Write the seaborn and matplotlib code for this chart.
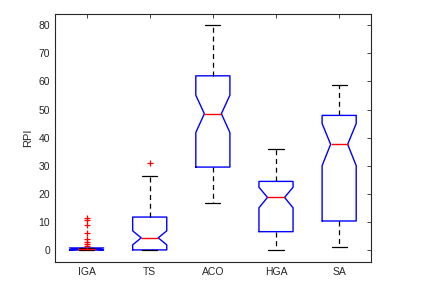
import matplotlib
matplotlib.use('Agg')
import matplotlib.pyplot as plt
import seaborn as sns

# ---------- Values ----------
methods = ['IGA', 'TS', 'ACO', 'HGA', 'SA']
q1 = [0.0, 0.0, 29.5, 6.5, 10.3]
median = [0.2, 4.3, 48.5, 18.7, 37.6]
q3 = [0.7, 11.7, 62.0, 24.4, 47.9]
whisker_low = [0.0, 0.0, 16.6, 0.0, 0.9]
whisker_high = [0.7, 26.2, 80.0, 36.1, 58.8]
notch_low = [0.0, 1.8, 41.8, 15.0, 30.0]
notch_high = [0.7, 6.8, 55.1, 22.3, 45.0]
outliers = [
    [11.3, 10.5, 8.8, 5.9, 4.0, 2.8, 2.0, 1.5],
    [30.8],
    [],
    [],
    [],
]

sns.set_style('white')
plt.rcParams['font.family'] = ['Liberation Sans', 'DejaVu Sans']

stats = []
for i, name in enumerate(methods):
    stats.append({
        'label': name,
        'q1': q1[i], 'med': median[i], 'q3': q3[i],
        'whislo': whisker_low[i], 'whishi': whisker_high[i],
        'cilo': notch_low[i], 'cihi': notch_high[i],
        'fliers': outliers[i],
    })

fig = plt.figure(figsize=(4.21, 3.02), dpi=100)
ax = fig.add_axes([0.1306, 0.1325, 0.75, 0.821])

ax.bxp(stats, positions=range(1, 6), widths=0.54, capwidths=0.24,
       shownotches=True,
       boxprops=dict(color='blue', linewidth=1.0),
       medianprops=dict(color='red', linewidth=1.0),
       whiskerprops=dict(color='black', linestyle=(0, (4, 3)), linewidth=0.9),
       capprops=dict(color='black', linewidth=0.9),
       flierprops=dict(marker='+', markeredgecolor='red', markersize=5,
                       markeredgewidth=0.9, linestyle='none'))

ax.set_xlim(0.5, 5.5)
ax.set_ylim(-4.3, 84)
ax.set_yticks(range(0, 81, 10))
ax.set_ylabel('RPI', fontsize=8, color='#262626')
ax.tick_params(axis='both', direction='in', length=3, width=0.6,
               labelsize=7.5, colors='#262626', top=True, right=True,
               labelcolor='#262626')
for spine in ax.spines.values():
    spine.set_color('#262626')
    spine.set_linewidth(0.8)

fig.savefig('out.png', dpi=100)
